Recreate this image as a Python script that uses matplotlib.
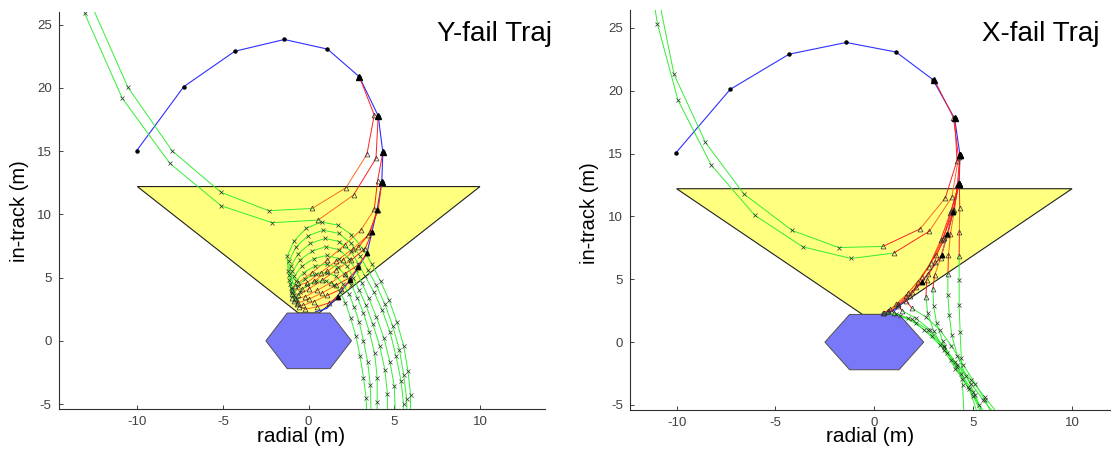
import matplotlib
matplotlib.use("Agg")
import matplotlib.pyplot as plt
from matplotlib.patches import Polygon

plt.rcParams['font.family'] = ['Liberation Sans', 'DejaVu Sans']
plt.rcParams['axes.unicode_minus'] = False

# nominal approach (blue)
nominal_x = [-10.04, -7.29, -4.31, -1.42, 1.10, 2.96, 4.06, 4.33, 4.27, 3.99, 3.40, 2.43, 1.07, 0.39]
nominal_y = [15.04, 20.10, 22.90, 23.83, 23.07, 20.88, 17.79, 14.91, 12.56, 10.34, 6.91, 4.80, 2.56, 2.29]
n_dots = 9  # only the upper nominal points show a dot

# approach cone and target hexagon
cone_x = [-10.0, 10.0, 0.6, -0.6]
cone_y = [12.2, 12.2, 2.2, 2.2]
target_x = [-2.5, -1.25, 1.25, 2.5, 1.25, -1.25]
target_y = [0.0, -2.2, -2.2, 0.0, 2.2, 2.2]

# Y-fail: powered part (triangles) then drift part (x)
yfail_pow_x = [
    [2.96, 3.83, 3.40, 2.18, 0.20],
    [4.06, 3.93, 2.62, 0.55],
    [4.33, 4.02, 3.83, 3.05, 2.10, 1.10, 0.20, -0.60],
    [4.27, 4.06, 3.48, 2.60, 1.60, 0.70, -0.10, -0.80],
    [3.99, 3.60, 2.90, 2.00, 1.10, 0.30, -0.40, -0.95],
    [3.70, 3.30, 2.50, 1.60, 0.80, 0.00, -0.60, -1.00],
    [3.40, 2.90, 2.10, 1.30, 0.50, -0.20, -0.80, -0.95],
    [2.90, 2.40, 1.60, 0.80, 0.00, -0.60, -0.85],
    [2.43, 1.90, 1.10, 0.30, -0.35, -0.70],
    [1.70, 1.20, 0.50, -0.20, -0.55],
]
yfail_pow_y = [
    [20.88, 17.86, 14.75, 12.11, 10.47],
    [17.79, 14.43, 11.53, 9.55],
    [14.91, 12.63, 10.39, 8.76, 7.60, 6.40, 5.40, 4.60],
    [12.56, 10.36, 8.36, 7.30, 6.30, 5.40, 4.60, 4.30],
    [10.34, 8.60, 7.40, 6.40, 5.50, 4.70, 4.10, 4.00],
    [8.60, 7.30, 6.40, 5.60, 4.80, 4.10, 3.60, 3.70],
    [6.91, 6.00, 5.30, 4.60, 4.00, 3.50, 3.30, 3.40],
    [5.80, 5.00, 4.40, 3.80, 3.30, 3.00, 3.15],
    [4.80, 4.10, 3.60, 3.10, 2.80, 2.90],
    [3.50, 3.00, 2.70, 2.50, 2.70],
]
yfail_drift_x = [
    [-2.33, -5.11, -7.97, -10.55, -12.95],
    [-2.13, -5.11, -8.10, -10.88, -13.08],
    [-1.20, -1.25, -0.85, -0.15, 0.75, 1.70, 2.50, 3.15, 3.70, 4.20, 4.70, 5.15, 5.55, 5.80, 5.95, 5.93],
    [-1.15, -1.15, -0.75, -0.05, 0.85, 1.75, 2.45, 3.00, 3.45, 3.95, 4.45, 4.90, 5.30, 5.55, 5.72, 5.74],
    [-1.15, -1.05, -0.60, 0.10, 0.95, 1.80, 2.45, 2.90, 3.30, 3.80, 4.30, 4.75, 5.10, 5.40, 5.54, 5.54],
    [-1.10, -0.95, -0.50, 0.20, 1.00, 1.80, 2.35, 2.75, 3.10, 3.50, 3.95, 4.40, 4.75, 5.00, 5.06],
    [-1.05, -0.85, -0.40, 0.30, 1.05, 1.75, 2.25, 2.60, 2.95, 3.35, 3.75, 4.15, 4.45, 4.60, 4.60],
    [-0.95, -0.75, -0.30, 0.35, 1.05, 1.70, 2.15, 2.50, 2.85, 3.20, 3.55, 3.85, 4.00, 4.00, 3.99],
    [-0.85, -0.65, -0.20, 0.40, 1.05, 1.60, 2.00, 2.35, 2.65, 2.95, 3.20, 3.45, 3.60, 3.65],
    [-0.70, -0.50, -0.10, 0.45, 1.00, 1.50, 1.85, 2.15, 2.45, 2.75, 3.00, 3.20, 3.35, 3.40],
]
yfail_drift_y = [
    [10.29, 11.74, 15.03, 20.05, 27.40],
    [9.34, 10.68, 14.03, 19.18, 25.90],
    [5.50, 6.70, 7.90, 8.90, 9.40, 9.15, 8.40, 7.30, 6.05, 4.70, 3.20, 1.50, -0.40, -2.40, -4.30, -6.00],
    [5.20, 6.30, 7.40, 8.30, 8.75, 8.50, 7.75, 6.70, 5.60, 4.40, 2.90, 1.20, -0.70, -2.70, -4.60, -6.00],
    [4.85, 5.90, 6.90, 7.70, 8.10, 7.85, 7.10, 6.10, 5.10, 3.90, 2.40, 0.70, -1.20, -3.20, -5.00, -6.00],
    [4.50, 5.50, 6.40, 7.10, 7.45, 7.20, 6.50, 5.60, 4.60, 3.40, 1.90, 0.20, -1.70, -3.60, -6.00],
    [4.20, 5.10, 5.90, 6.50, 6.75, 6.50, 5.90, 5.00, 4.00, 2.80, 1.30, -0.40, -2.30, -4.20, -6.00],
    [3.90, 4.70, 5.40, 5.90, 6.05, 5.80, 5.20, 4.40, 3.40, 2.20, 0.70, -1.00, -2.90, -4.80, -6.00],
    [3.60, 4.30, 4.90, 5.30, 5.40, 5.10, 4.50, 3.70, 2.70, 1.50, 0.00, -1.70, -3.50, -6.00],
    [3.30, 3.90, 4.40, 4.70, 4.75, 4.45, 3.85, 3.00, 1.80, 0.40, -1.20, -2.90, -4.50, -6.00],
]

# X-fail
xfail_pow_x = [
    [3.03, 4.00, 4.26, 3.92, 2.79, 0.98],
    [4.07, 4.18, 3.59, 2.32, 0.44],
    [4.33, 4.30, 4.32, 4.30, 4.29],
    [4.33, 4.20, 4.05, 3.85, 3.75, 3.72],
    [4.27, 4.00, 3.70, 3.35, 3.05, 2.96],
    [4.27, 3.90, 3.50, 3.05, 2.65, 2.61],
    [4.27, 3.85, 3.35, 2.75, 2.10, 1.60, 1.90],
    [3.99, 3.45, 2.85, 2.20, 1.60, 1.20, 1.40],
    [3.70, 3.10, 2.40, 1.70, 1.10, 0.80, 1.00],
    [3.40, 2.70, 1.90, 1.20, 0.70, 0.50],
    [2.43, 1.80, 1.20, 0.70, 0.45],
]
xfail_pow_y = [
    [20.88, 17.86, 14.69, 11.52, 8.83, 7.08],
    [17.79, 14.43, 11.47, 9.01, 7.61],
    [14.91, 12.66, 10.70, 8.75, 6.82],
    [14.91, 12.50, 10.50, 8.60, 6.90, 5.39],
    [12.56, 10.50, 8.50, 6.70, 5.30, 4.25],
    [12.56, 10.40, 8.30, 6.40, 4.90, 3.59],
    [12.56, 10.30, 8.10, 6.00, 4.40, 3.30, 2.70],
    [10.34, 8.20, 6.30, 4.80, 3.70, 3.00, 2.50],
    [8.60, 6.90, 5.20, 3.90, 3.00, 2.60, 2.35],
    [6.91, 5.40, 4.00, 3.00, 2.50, 2.35],
    [4.80, 3.70, 2.90, 2.45, 2.35],
]
xfail_drift_x = [
    [-1.18, -3.62, -6.05, -8.25, -9.93, -10.97, -11.20],
    [-1.80, -4.16, -6.60, -8.54, -10.13, -10.85],
    [4.29, 4.29, 4.34, 4.40, 4.46, 4.53],
    [3.72, 3.79, 3.92, 4.20, 4.65, 5.10, 5.45],
    [3.00, 3.15, 3.45, 3.90, 4.45, 5.00, 5.40],
    [2.70, 3.00, 3.50, 4.10, 4.75, 5.30, 5.55],
    [2.60, 3.30, 3.90, 4.50, 5.10, 5.60, 5.90],
    [2.10, 2.80, 3.50, 4.20, 4.90, 5.50, 6.03],
    [1.70, 2.50, 3.30, 4.10, 4.90, 5.60, 6.20],
    [1.30, 2.10, 2.90, 3.70, 4.40, 5.00, 5.50],
    [1.10, 1.90, 2.70, 3.50, 4.20, 4.80, 5.20],
]
xfail_drift_y = [
    [6.65, 7.58, 10.09, 14.09, 19.24, 25.31, 27.60],
    [7.52, 8.88, 11.79, 15.88, 21.30, 26.90],
    [4.91, 2.93, 0.81, -1.30, -3.40, -5.60],
    [3.72, 2.14, 0.55, -1.10, -2.70, -4.20, -5.60],
    [2.90, 1.50, 0.10, -1.40, -2.90, -4.30, -5.60],
    [2.30, 0.90, -0.60, -2.10, -3.60, -5.00, -5.60],
    [2.00, 1.00, -0.30, -1.80, -3.30, -4.60, -5.60],
    [1.90, 1.00, -0.30, -1.80, -3.30, -4.60, -5.60],
    [1.90, 1.00, -0.20, -1.60, -3.00, -4.40, -5.60],
    [2.10, 1.50, 0.50, -0.90, -2.50, -4.00, -5.60],
    [2.20, 1.80, 1.00, -0.40, -2.00, -3.70, -5.60],
]

RED = '#ff2020'
ORANGE = '#ff6a1a'
GREEN = '#33ee33'
BLUE = '#2f2fff'
MK = '#303030'


def draw_panel(ax, pow_x, pow_y, drift_x, drift_y, red_tail, xlim, ylim):
    ax.add_patch(Polygon(list(zip(cone_x, cone_y)), closed=True, fc='#ffff80',
                         ec='#202020', lw=0.8, zorder=1))
    ax.add_patch(Polygon(list(zip(target_x, target_y)), closed=True, fc='#7878f8',
                         ec='#505050', lw=0.7, zorder=1))

    ax.plot(nominal_x, nominal_y, color=BLUE, lw=0.8, zorder=3)
    ax.plot(nominal_x[:n_dots], nominal_y[:n_dots], ls='none', marker='o', ms=2.2,
            color='k', zorder=6)

    for k, (px, py, dx, dy) in enumerate(zip(pow_x, pow_y, drift_x, drift_y)):
        n = len(px) - 1
        for j in range(n):
            col = RED if (j < 2 or (red_tail and j == n - 1)) else ORANGE
            ax.plot(px[j:j + 2], py[j:j + 2], color=col, lw=0.7, zorder=3)
        ax.plot([px[-1]] + dx, [py[-1]] + dy, color=GREEN, lw=0.7, zorder=3)
        ax.plot(px, py, ls='none', marker='^', ms=3.5, mfc='none', mec=MK, mew=0.5, zorder=4)
        ax.plot(dx, dy, ls='none', marker='x', ms=3.5, color=MK, mew=0.5, zorder=4)
        ax.plot(px[0], py[0], marker='^', ms=4 if py[0] > 12 else 3, color='k', zorder=5)

    ax.set_xlim(*xlim)
    ax.set_ylim(*ylim)
    ax.set_xticks([-10, -5, 0, 5, 10])
    ax.set_yticks([-5, 0, 5, 10, 15, 20, 25])
    ax.tick_params(direction='in', length=3, width=0.7, colors='#404040',
                   labelsize=9.5, pad=5)
    for s in ['top', 'right']:
        ax.spines[s].set_visible(False)
    for s in ['left', 'bottom']:
        ax.spines[s].set_color('#303030')
        ax.spines[s].set_linewidth(0.8)


fig = plt.figure(figsize=(11.11, 4.58), dpi=100)
ax1 = fig.add_axes([0.0527, 0.1059, 0.4379, 0.8686])
ax2 = fig.add_axes([0.567, 0.1048, 0.433, 0.873])

draw_panel(ax1, yfail_pow_x, yfail_pow_y, yfail_drift_x, yfail_drift_y, False,
           (-14.6, 13.8), (-5.43, 26.03))
draw_panel(ax2, xfail_pow_x, xfail_pow_y, xfail_drift_x, xfail_drift_y, True,
           (-12.36, 11.97), (-5.4, 26.4))

fig.text(0.497, 0.9094, 'Y-fail Traj', ha='right', va='baseline', fontsize=20)
fig.text(0.990, 0.9094, 'X-fail Traj', ha='right', va='baseline', fontsize=20)

fig.text(0.2708, 0.035, 'radial (m)', ha='center', va='baseline', fontsize=15)
fig.text(0.783, 0.035, 'radial (m)', ha='center', va='baseline', fontsize=15)
fig.text(0.018, 0.539, 'in-track (m)', ha='center', va='center', rotation=90, fontsize=14.5)
fig.text(0.531, 0.535, 'in-track (m)', ha='center', va='center', rotation=90, fontsize=14.5)

fig.savefig('out.png', dpi=100)
